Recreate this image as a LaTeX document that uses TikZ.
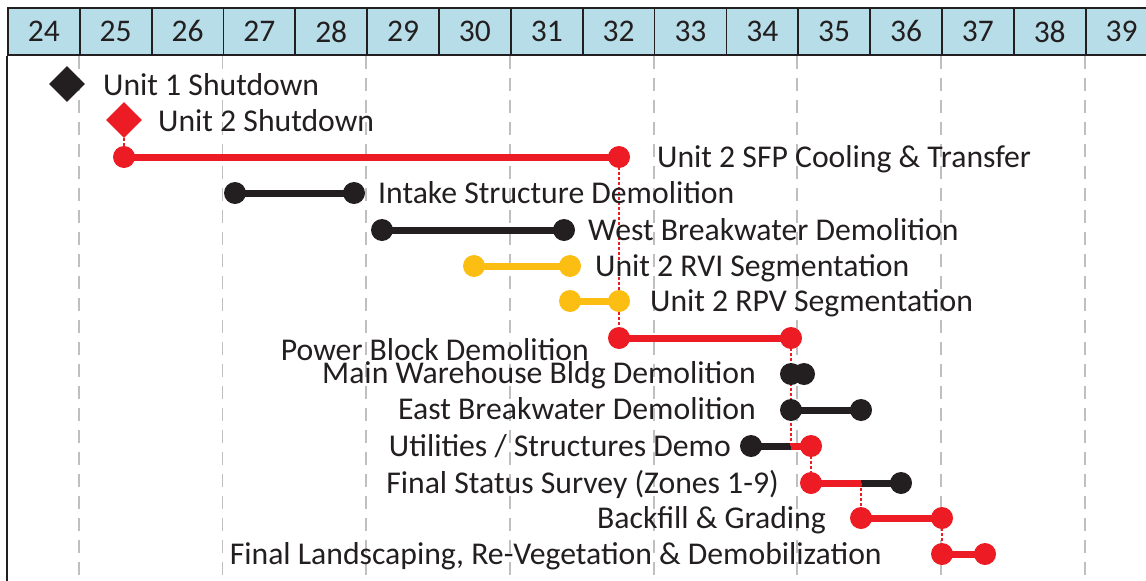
\documentclass[tikz,border=0pt]{standalone}
\usepackage{fontspec}
\setmainfont{Carlito}
\usetikzlibrary{shapes.geometric}
\definecolor{cred}{HTML}{ED1C24}
\definecolor{cyel}{HTML}{FDBE14}
\definecolor{cblk}{HTML}{231F20}
\definecolor{chdr}{HTML}{B7DEE8}
\definecolor{cgrid}{HTML}{BFBFBF}
\pgfdeclarelayer{bg}
\pgfdeclarelayer{mid}
\pgfsetlayers{bg,mid,main}
\begin{document}
\begin{tikzpicture}[x=1pt,y=-1pt,
  hdr/.style={draw=cblk,line width=1.8pt,fill=chdr,text=cblk,inner sep=0pt,
    minimum width=71.85pt,minimum height=47pt,anchor=north west,
    font=\fontsize{31.5}{36}\selectfont},
  gridline/.style={cgrid,line width=1.8pt,dash pattern=on 13pt off 9pt},
  dot/.style={circle,fill=#1,inner sep=0pt,minimum size=22pt},
  ms/.style={diamond,fill=#1,inner sep=0pt,minimum size=36pt},
  bar/.style={line width=7pt,draw=#1},
  link/.style={cred,line width=1.6pt,dash pattern=on 2.5pt off 2.5pt},
  lbl/.style={inner sep=0pt,text=cblk,font=\fontsize{31.7}{36}\selectfont}]
\useasboundingbox (0,0) rectangle (1146,581);
\clip (0,0) rectangle (1146,581);
\begin{pgfonlayer}{bg}
\fill[white] (0,0) rectangle (1146,581);
\end{pgfonlayer}

% header
\foreach \w [count=\i from 0] in {24,...,39}
  \node[hdr] (h\w) at ({7+\i*71.85},7) {\w};

% grid
\begin{pgfonlayer}{bg}
\foreach \w in {25,27,...,39}
  \draw[gridline] (h\w.south west) -- ++(0,522);
\end{pgfonlayer}
\draw[cblk,line width=2pt] (h24.south west) -- ++(0,530);

% milestones
\node[ms=cblk] (m1) at (67,84) {};
\node[lbl,anchor=base west] (m1t) at (103,95) {Unit 1 Shutdown};
\node[ms=cred] (m2) at (124,120) {};
\node[lbl,anchor=base west] (m2t) at (158,131) {Unit 2 Shutdown};

% end points
\node[dot=cred] (s1) at (124,157) {};
\node[dot=cred] (s2) at (619,157) {};
\node[dot=cblk] (i1) at (235,193) {};
\node[dot=cblk] (i2) at (354,193) {};
\node[dot=cblk] (w1) at (382,230) {};
\node[dot=cblk] (w2) at (564,230) {};
\node[dot=cyel] (r1) at (474,266) {};
\node[dot=cyel] (r2) at (570,266) {};
\node[dot=cyel] (v1) at (570,301) {};
\node[dot=cyel] (v2) at (619,301) {};
\node[dot=cred] (p1) at (619,338) {};
\node[dot=cred] (p2) at (791,338) {};
\node[dot=cblk] (mw1) at (791,374) {};
\node[dot=cblk] (mw2) at (804,374) {};
\node[dot=cblk] (e1) at (791,410) {};
\node[dot=cblk] (e2) at (861,410) {};
\node[dot=cblk] (u1) at (751,446) {};
\coordinate (um) at (791,446);
\node[dot=cred] (u2) at (811,446) {};
\node[dot=cred] (f1) at (811,483) {};
\coordinate (fm) at (861,483);
\node[dot=cblk] (f2) at (901,483) {};
\node[dot=cred] (b1) at (861,518) {};
\node[dot=cred] (b2) at (942,518) {};
\node[dot=cred] (l1) at (942,554) {};
\node[dot=cred] (l2) at (985,554) {};

% bars and links
\begin{pgfonlayer}{mid}
\draw[bar=cred] (s1.center) -- (s2.center);
\draw[bar=cblk] (i1.center) -- (i2.center);
\draw[bar=cblk] (w1.center) -- (w2.center);
\draw[bar=cyel] (r1.center) -- (r2.center);
\draw[bar=cyel] (v1.center) -- (v2.center);
\draw[bar=cred] (p1.center) -- (p2.center);
\draw[bar=cblk] (mw1.center) -- (mw2.center);
\draw[bar=cblk] (e1.center) -- (e2.center);
\draw[bar=cblk] (u1.center) -- (um);
\draw[bar=cred] (um) -- (u2.center);
\draw[bar=cred] (f1.center) -- (fm);
\draw[bar=cblk] (fm) -- (f2.center);
\draw[bar=cred] (b1.center) -- (b2.center);
\draw[bar=cred] (l1.center) -- (l2.center);
\draw[link] (m2.south) -- (s1.center);
\draw[link] (s2.center) -- (p1.center);
\draw[link] (p2.center) -- (um);
\draw[link] (u2.center) -- (f1.center);
\draw[link] (fm) -- (b1.center);
\draw[link] (b2.center) -- (l1.center);
\end{pgfonlayer}

% labels
\node[lbl,anchor=base west] at (657,167.5) {Unit 2 SFP Cooling \& Transfer};
\node[lbl,anchor=base west] at (378,203.5) {Intake Structure Demolition};
\node[lbl,anchor=base west] at (588,240.5) {West Breakwater Demolition};
\node[lbl,anchor=base west] at (595,276.5) {Unit 2 RVI Segmentation};
\node[lbl,anchor=base west] at (650,311.5) {Unit 2 RPV Segmentation};
\node[lbl,anchor=base east] at (589,360) {Power Block Demolition};
\node[lbl,anchor=base east] at (756,383.5) {Main Warehouse Bldg Demolition};
\node[lbl,anchor=base east] at (756,419.5) {East Breakwater Demolition};
\node[lbl,anchor=base east] at (731,456) {Utilities / Structures Demo};
\node[lbl,anchor=base east] at (779,493) {Final Status Survey (Zones 1-9)};
\node[lbl,anchor=base east] at (826,528.5) {Backfill \& Grading};
\node[lbl,anchor=base east] at (882,564.5) {Final Landscaping, Re-Vegetation \& Demobilization};
\end{tikzpicture}
\end{document}
